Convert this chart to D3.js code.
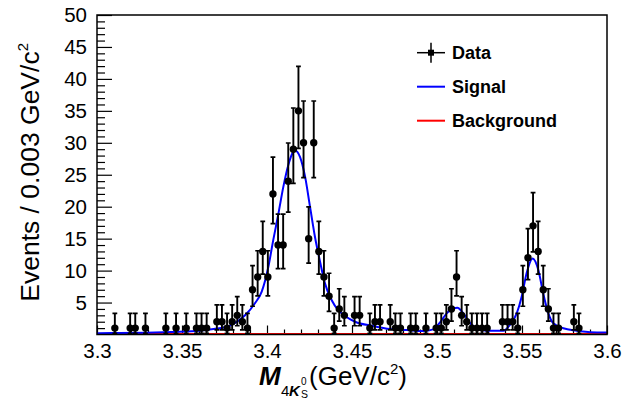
<!DOCTYPE html>
<html>
<head>
<meta charset="utf-8">
<script src="https://cdn.jsdelivr.net/npm/d3@7"></script>
<style>
  html, body { margin: 0; padding: 0; background: #ffffff; }
  svg { display: block; font-family: "Liberation Sans", Arial, Helvetica, sans-serif; }
</style>
</head>
<body>
<svg id="chart" width="642" height="407"></svg>
<script>
// ---------------- data ----------------
// bin centres (GeV/c^2) of the non-empty bins, bin width 0.003
const dataMass = [
  3.3105, 3.3195, 3.3225, 3.3285, 3.3405, 3.3465, 3.3525, 3.3585, 3.3615, 3.3645,
  3.3705, 3.3735, 3.3765, 3.3795, 3.3825, 3.3855, 3.3885, 3.3915, 3.3945, 3.3975,
  3.4005, 3.4035, 3.4065, 3.4095, 3.4125, 3.4155, 3.4185, 3.4215, 3.4245, 3.4275,
  3.4305, 3.4335, 3.4365, 3.4395, 3.4425, 3.4455, 3.4515, 3.4545, 3.4605, 3.4635,
  3.4665, 3.4725, 3.4755, 3.4785, 3.4845, 3.4875, 3.4935, 3.4995, 3.5025, 3.5055,
  3.5085, 3.5115, 3.5145, 3.5175, 3.5205, 3.5235, 3.5265, 3.5295, 3.5385, 3.5415,
  3.5445, 3.5475, 3.5505, 3.5535, 3.5565, 3.5595, 3.5625, 3.5655, 3.5685, 3.5715,
  3.5805, 3.5835
];
const dataCounts = [
  1, 1, 1, 1, 1, 1, 1, 1, 1, 1,
  2, 2, 1, 2, 3, 2, 1, 7, 9, 13,
  9, 22, 14, 14, 24, 29, 35, 30, 15, 30,
  13, 9, 6, 1, 4, 3, 3, 3, 1, 2,
  2, 2, 1, 1, 1, 1, 1, 1, 1, 2,
  4, 9, 3, 2, 1, 1, 1, 1, 2, 2,
  2, 1, 7, 12, 17, 13, 7, 4, 1, 1,
  2, 1
];

// fitted signal curve
const signalMass = [
  3.300, 3.309, 3.329, 3.339, 3.3586, 3.3686, 3.3782, 3.3812, 3.3871, 3.3929,
  3.3969, 3.4008, 3.4037, 3.4067, 3.4096, 3.4125, 3.4155, 3.4165, 3.4194, 3.4224,
  3.4253, 3.4282, 3.4312, 3.4341, 3.4380, 3.4419, 3.4459, 3.4518, 3.4625, 3.4724,
  3.4822, 3.4920, 3.4978, 3.5018, 3.5057, 3.5096, 3.5120, 3.5155, 3.5194, 3.5233,
  3.5292, 3.5390, 3.5429, 3.5469, 3.5498, 3.5527, 3.5563, 3.5596, 3.5625, 3.5655,
  3.5684, 3.5743, 3.5822, 3.5900, 3.6000
];
const signalValue = [
  0.20, 0.23, 0.28, 0.35, 0.55, 0.85, 1.40, 1.80, 3.00, 4.90,
  6.70, 10.6, 14.8, 18.9, 23.1, 26.5, 28.6, 28.8, 27.8, 24.7,
  20.0, 15.3, 11.4, 8.00, 5.40, 3.80, 2.90, 2.00, 1.33, 0.86,
  0.70, 0.55, 0.80, 1.90, 3.30, 4.10, 4.20, 3.30, 1.80, 0.97,
  0.60, 0.60, 1.50, 3.30, 5.90, 9.60, 11.9, 10.1, 6.40, 3.30,
  1.75, 0.97, 0.60, 0.34, 0.30
];

// background curve (flat, essentially zero)
const backgroundMass = [3.3, 3.6];
const backgroundValue = [0.06, 0.06];

// axis ticks and labels
const xTickValues = [3.3, 3.35, 3.4, 3.45, 3.5, 3.55, 3.6];
const xTickLabels = ["3.3", "3.35", "3.4", "3.45", "3.5", "3.55", "3.6"];
const yTickValues = [5, 10, 15, 20, 25, 30, 35, 40, 45, 50];
const yTickLabels = ["5", "10", "15", "20", "25", "30", "35", "40", "45", "50"];

const legendLabels = ["Data", "Signal", "Background"];

// ---------------- layout ----------------
const W = 642, H = 407;
const L = 97, R = 607, T = 15, B = 334.5;

const svg = d3.select("#chart");
const x = d3.scaleLinear().domain([3.3, 3.6]).range([L, R]);
const y = d3.scaleLinear().domain([0, 50]).range([B, T]);

// Poisson (Garwood 68.27%) intervals for the error bars
function poisCdf(k, mu) {
  let term = Math.exp(-mu), s = term;
  for (let j = 1; j <= k; j++) { term *= mu / j; s += term; }
  return s;
}
function solve(f, target, lo, hi) { // f decreasing
  for (let it = 0; it < 80; it++) {
    const m = 0.5 * (lo + hi);
    if (f(m) > target) lo = m; else hi = m;
  }
  return 0.5 * (lo + hi);
}
const alpha = (1 - 0.682689) / 2;
function poisLow(n) { return n === 0 ? 0 : solve(mu => poisCdf(n - 1, mu), 1 - alpha, 0, n + 50); }
function poisUp(n) { return solve(mu => poisCdf(n, mu), alpha, 0, n + 60); }

const pts = dataMass.map((m, i) => {
  const n = dataCounts[i];
  return { m, n, lo: poisLow(n), hi: poisUp(n) };
});

// clip
svg.append("defs").append("clipPath").attr("id", "clip")
  .append("rect").attr("x", L).attr("y", T).attr("width", R - L).attr("height", B - T);

// ---------------- axes ----------------
const minorX = d3.range(0, 31).map(i => 3.3 + i * 0.01).filter(v => !xTickValues.some(t => Math.abs(t - v) < 1e-9));
svg.append("g").attr("transform", `translate(0,${B})`)
  .call(d3.axisBottom(x).tickValues(minorX).tickSizeInner(-5).tickSizeOuter(0).tickFormat(""))
  .call(g => g.select(".domain").remove())
  .call(g => g.selectAll("line").attr("stroke", "#000").attr("stroke-width", 1.2));

svg.append("g").attr("transform", `translate(0,${B})`)
  .call(d3.axisBottom(x).tickValues(xTickValues).tickSizeInner(-9).tickSizeOuter(0)
    .tickPadding(9).tickFormat((d, i) => xTickLabels[i]))
  .call(g => g.select(".domain").remove())
  .call(g => g.selectAll("line").attr("stroke", "#000").attr("stroke-width", 1.2))
  .call(g => g.selectAll("text").attr("font-size", 20.5).attr("fill", "#000")
    .attr("font-family", "'Liberation Sans', Arial, sans-serif"));

const minorY = d3.range(1, 50).filter(v => v % 5 !== 0);
svg.append("g").attr("transform", `translate(${L},0)`)
  .call(d3.axisLeft(y).tickValues(minorY).tickSizeInner(-8).tickSizeOuter(0).tickFormat(""))
  .call(g => g.select(".domain").remove())
  .call(g => g.selectAll("line").attr("stroke", "#000").attr("stroke-width", 1.2));

svg.append("g").attr("transform", `translate(${L},0)`)
  .call(d3.axisLeft(y).tickValues(yTickValues).tickSizeInner(-15).tickSizeOuter(0)
    .tickPadding(10).tickFormat((d, i) => yTickLabels[i]))
  .call(g => g.select(".domain").remove())
  .call(g => g.selectAll("line").attr("stroke", "#000").attr("stroke-width", 1.2))
  .call(g => g.selectAll("text").attr("font-size", 20.5).attr("fill", "#000")
    .attr("font-family", "'Liberation Sans', Arial, sans-serif"));

// ---------------- background & signal ----------------
const bgLine = d3.line().x(d => x(d[0])).y(d => y(d[1]));
svg.append("path")
  .datum(backgroundMass.map((m, i) => [m, backgroundValue[i]]))
  .attr("d", bgLine).attr("fill", "none").attr("stroke", "#ff0000").attr("stroke-width", 2)
  .attr("clip-path", "url(#clip)");

const sigLine = d3.line().x(d => x(d[0])).y(d => y(d[1])).curve(d3.curveMonotoneX);
svg.append("path")
  .datum(signalMass.map((m, i) => [m, signalValue[i]]))
  .attr("d", sigLine).attr("fill", "none").attr("stroke", "#0000ff").attr("stroke-width", 2)
  .attr("clip-path", "url(#clip)");

// ---------------- data points ----------------
const gData = svg.append("g").attr("clip-path", "url(#clip)");
const cap = 2.4;
gData.selectAll("line.err").data(pts).join("line").attr("class", "err")
  .attr("x1", d => x(d.m)).attr("x2", d => x(d.m))
  .attr("y1", d => y(d.lo)).attr("y2", d => y(d.hi))
  .attr("stroke", "#000").attr("stroke-width", 1.9);
gData.selectAll("line.capt").data(pts).join("line").attr("class", "capt")
  .attr("x1", d => x(d.m) - cap).attr("x2", d => x(d.m) + cap)
  .attr("y1", d => y(d.hi)).attr("y2", d => y(d.hi))
  .attr("stroke", "#000").attr("stroke-width", 1.7);
gData.selectAll("line.capb").data(pts).join("line").attr("class", "capb")
  .attr("x1", d => x(d.m) - cap).attr("x2", d => x(d.m) + cap)
  .attr("y1", d => y(d.lo)).attr("y2", d => y(d.lo))
  .attr("stroke", "#000").attr("stroke-width", 1.7);
gData.selectAll("circle").data(pts).join("circle")
  .attr("cx", d => x(d.m)).attr("cy", d => y(d.n)).attr("r", 3.7).attr("fill", "#000");

// ---------------- frame ----------------
svg.append("rect").attr("x", L).attr("y", T).attr("width", R - L).attr("height", B - T)
  .attr("fill", "none").attr("stroke", "#000").attr("stroke-width", 1.5);

// ---------------- legend ----------------
const legX1 = 417, legX2 = 445, legTextX = 452;
const legY = [52.7, 86.7, 120.7];
const lg = svg.append("g");
// data marker: cross + square
lg.append("line").attr("x1", legX1).attr("x2", legX2).attr("y1", legY[0]).attr("y2", legY[0])
  .attr("stroke", "#000").attr("stroke-width", 1.5);
lg.append("line").attr("x1", (legX1 + legX2) / 2).attr("x2", (legX1 + legX2) / 2)
  .attr("y1", legY[0] - 10).attr("y2", legY[0] + 10).attr("stroke", "#000").attr("stroke-width", 1.5);
lg.append("rect").attr("x", (legX1 + legX2) / 2 - 3).attr("y", legY[0] - 3)
  .attr("width", 6).attr("height", 6).attr("fill", "#000");
lg.append("line").attr("x1", legX1).attr("x2", legX2).attr("y1", legY[1]).attr("y2", legY[1])
  .attr("stroke", "#0000ff").attr("stroke-width", 2);
lg.append("line").attr("x1", legX1).attr("x2", legX2).attr("y1", legY[2]).attr("y2", legY[2])
  .attr("stroke", "#ff0000").attr("stroke-width", 2);
legendLabels.forEach((t, i) => {
  lg.append("text").attr("x", legTextX).attr("y", legY[i] + 6.5)
    .attr("font-size", 18).attr("font-weight", "bold").attr("fill", "#000").text(t);
});

// ---------------- axis titles ----------------
const xt = svg.append("g").attr("fill", "#000");
xt.append("text").attr("x", 259).attr("y", 385).attr("font-size", 26)
  .attr("font-weight", "bold").attr("font-style", "italic").text("M");
xt.append("text").attr("x", 281).attr("y", 396).attr("font-size", 15).text("4");
xt.append("text").attr("x", 289).attr("y", 396).attr("font-size", 15)
  .attr("font-weight", "bold").attr("font-style", "italic").text("K");
xt.append("text").attr("x", 301).attr("y", 385).attr("font-size", 10).text("0");
xt.append("text").attr("x", 301).attr("y", 397.5).attr("font-size", 10.5).text("S");
const xt2 = xt.append("text").attr("x", 309).attr("y", 385).attr("font-size", 26);
xt2.append("tspan").text("(GeV/c");
xt2.append("tspan").attr("font-size", 15).attr("dy", -11).text("2");
xt2.append("tspan").attr("dy", 11).text(")");

const yt = svg.append("text").attr("fill", "#000").attr("font-size", 26.5)
  .attr("text-anchor", "end")
  .attr("transform", "translate(39,43) rotate(-90)");
yt.append("tspan").text("Events / 0.003 GeV/c");
yt.append("tspan").attr("font-size", 15).attr("dy", -11).text("2");
</script>
</body>
</html>
